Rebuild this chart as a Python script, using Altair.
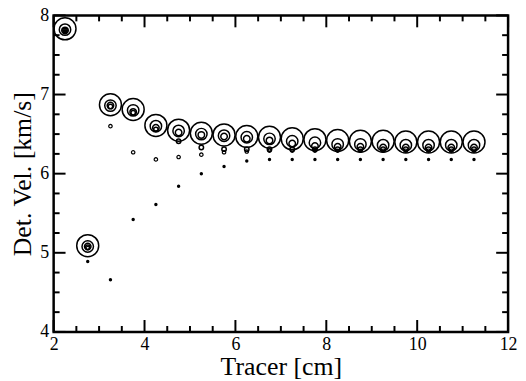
import altair as alt
import pandas as pd

# Tracer positions [cm]
tracer = [2.25, 2.75, 3.25, 3.75, 4.25, 4.75, 5.25, 5.75, 6.25, 6.75,
          7.25, 7.75, 8.25, 8.75, 9.25, 9.75, 10.25, 10.75, 11.25]

# Detonation velocity [km/s] per series (largest circle -> smallest dot)
s1 = [7.83, 5.09, 6.87, 6.81, 6.61, 6.55, 6.51, 6.49, 6.47, 6.46,
      6.44, 6.43, 6.42, 6.41, 6.41, 6.40, 6.40, 6.40, 6.40]
s2 = [7.82, 5.08, 6.86, 6.80, 6.60, 6.54, 6.50, 6.48, 6.46, 6.44,
      6.41, 6.39, 6.37, 6.37, 6.36, 6.36, 6.36, 6.36, 6.36]
s3 = [7.81, 5.08, 6.86, 6.78, 6.58, 6.52, 6.49, 6.47, 6.44, 6.42,
      6.38, 6.35, 6.34, 6.34, 6.33, 6.33, 6.33, 6.33, 6.33]
s4 = [7.81, 5.07, 6.85, 6.77, 6.56, 6.41, 6.33, 6.31, 6.31, 6.31,
      6.31, 6.31, 6.31, 6.31, 6.31, 6.31, 6.31, 6.31, 6.31]
s5 = [7.80, 5.06, 6.60, 6.27, 6.18, 6.21, 6.24, 6.27, 6.28, 6.29,
      6.29, 6.29, 6.29, 6.29, 6.29, 6.29, 6.29, 6.29, 6.29]
s6 = [7.80, 4.89, 4.66, 5.42, 5.61, 5.84, 6.00, 6.09, 6.16, 6.18,
      6.18, 6.18, 6.18, 6.18, 6.18, 6.18, 6.18, 6.18, 6.18]

x_major = [2, 4, 6, 8, 10, 12]
x_minor = [2.5, 3, 3.5, 4.5, 5, 5.5, 6.5, 7, 7.5, 8.5, 9, 9.5, 10.5, 11, 11.5]
y_major = [4, 5, 6, 7, 8]
y_minor = [4.25, 4.5, 4.75, 5.25, 5.5, 5.75, 6.25, 6.5, 6.75,
           7.25, 7.5, 7.75]

FONT = "Liberation Serif"
W, H = 458, 319
MAJ, MIN = 12, 6

xscale = alt.Scale(domain=[2, 12], nice=False, zero=False)
yscale = alt.Scale(domain=[4, 8], nice=False, zero=False)

common = dict(domain=False, grid=False, ticks=False,
              labelFont=FONT, labelFontSize=18, labelColor="black",
              labelFlush=False, labelOverlap=False,
              titleFont=FONT, titleFontSize=26, titleFontWeight="normal",
              titleColor="black")

x_axis = alt.Axis(orient="bottom", values=x_major, labelPadding=4,
                  titlePadding=0, title="Tracer [cm]", **common)
y_axis = alt.Axis(orient="left", values=y_major, labelPadding=5,
                  titlePadding=4, title="Det. Vel. [km/s]", **common)


def points(vals, size, filled, sw=1.5):
    df = pd.DataFrame({"x": tracer, "y": vals})
    return alt.Chart(df).mark_point(
        shape="circle", size=size, filled=filled, color="black",
        strokeWidth=sw, opacity=1
    ).encode(
        x=alt.X("x:Q", scale=xscale, axis=x_axis),
        y=alt.Y("y:Q", scale=yscale, axis=y_axis),
    )


def xticks(vals, p0, p1):
    df = pd.DataFrame({"x": vals})
    return alt.Chart(df).mark_rule(color="black", strokeWidth=2).encode(
        x=alt.X("x:Q", scale=xscale, axis=x_axis),
        y=alt.value(p0), y2=alt.value(p1))


def yticks(vals, p0, p1):
    df = pd.DataFrame({"y": vals})
    return alt.Chart(df).mark_rule(color="black", strokeWidth=2).encode(
        y=alt.Y("y:Q", scale=yscale, axis=y_axis),
        x=alt.value(p0), x2=alt.value(p1))


ticks = [
    xticks(x_major, H, H - MAJ), xticks(x_minor, H, H - MIN),
    xticks(x_major, 0, MAJ), xticks(x_minor, 0, MIN),
    yticks(y_major, 0, MAJ), yticks(y_minor, 0, MIN),
    yticks(y_major, W, W - MAJ), yticks(y_minor, W, W - MIN),
]

pts = [
    points(s1, 491, False),
    points(s2, 133, False),
    points(s3, 43, False),
    points(s4, 20, False),
    points(s5, 12, False, sw=1.2),
    points(s6, 12, True),
]

chart = alt.layer(*pts, *ticks).properties(
    width=W, height=H,
    padding={"left": 46, "top": 6, "right": 10, "bottom": 48},
    autosize=alt.AutoSizeParams(type="none"),
    background="white",
).configure_view(stroke="black", strokeWidth=2.5)

chart.save("out.html", embed_options={"renderer": "svg", "actions": False})
